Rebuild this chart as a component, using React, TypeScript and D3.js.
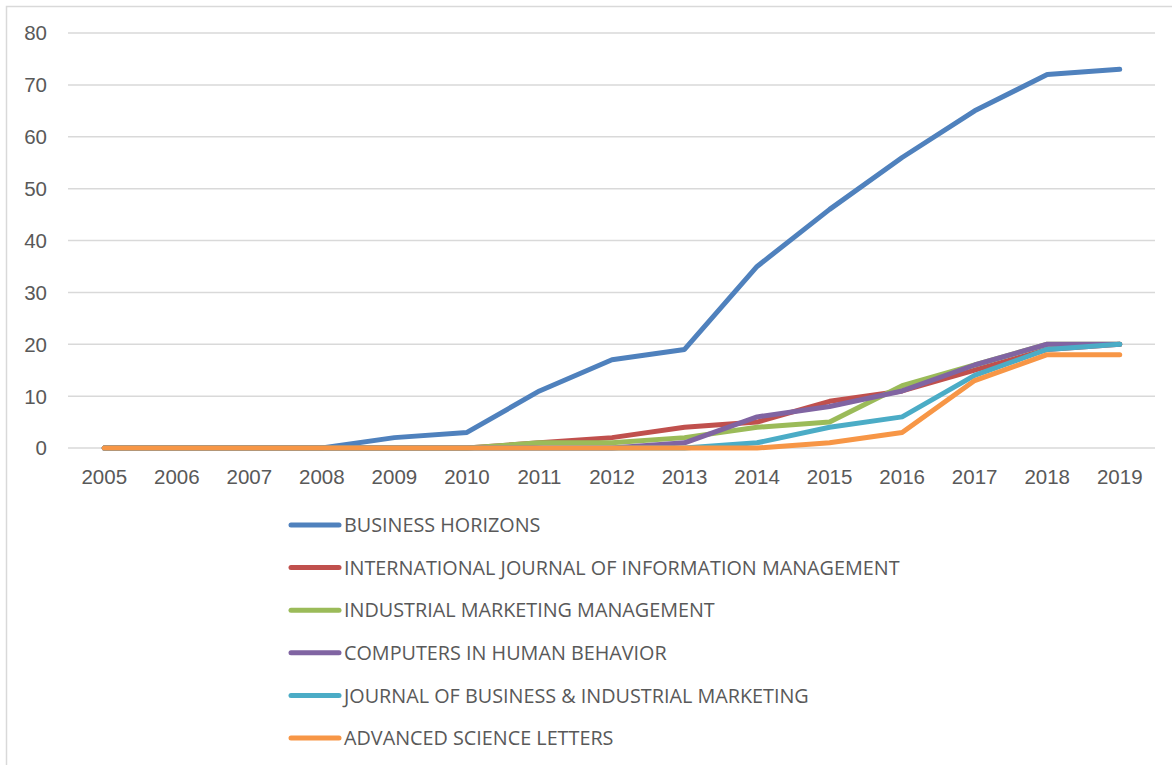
import { useRef, useEffect } from 'react'
import * as d3 from 'd3'

const years = ['2005', '2006', '2007', '2008', '2009', '2010', '2011', '2012', '2013', '2014', '2015', '2016', '2017', '2018', '2019']
const seriesNames = [
  'BUSINESS HORIZONS',
  'INTERNATIONAL JOURNAL OF INFORMATION MANAGEMENT',
  'INDUSTRIAL MARKETING MANAGEMENT',
  'COMPUTERS IN HUMAN BEHAVIOR',
  'JOURNAL OF BUSINESS & INDUSTRIAL MARKETING',
  'ADVANCED SCIENCE LETTERS',
]
const businessHorizons = [0, 0, 0, 0, 2, 3, 11, 17, 19, 35, 46, 56, 65, 72, 73]
const ijim = [0, 0, 0, 0, 0, 0, 1, 2, 4, 5, 9, 11, 15, 19, 20]
const imm = [0, 0, 0, 0, 0, 0, 1, 1, 2, 4, 5, 12, 16, 20, 20]
const chb = [0, 0, 0, 0, 0, 0, 0, 0, 1, 6, 8, 11, 16, 20, 20]
const jbim = [0, 0, 0, 0, 0, 0, 0, 0, 0, 1, 4, 6, 14, 19, 20]
const asl = [0, 0, 0, 0, 0, 0, 0, 0, 0, 0, 1, 3, 13, 18, 18]
const yTicks = [0, 10, 20, 30, 40, 50, 60, 70, 80]
const colors = ['#4F81BD', '#C0504D', '#9BBB59', '#8064A2', '#4BACC6', '#F79646']

const allSeries = [businessHorizons, ijim, imm, chb, jbim, asl]

export default function App() {
  const svgRef = useRef<SVGSVGElement>(null)

  useEffect(() => {
    if (!svgRef.current) return
    const svg = d3.select(svgRef.current)
    svg.selectAll('*').remove()

    const font = '"Liberation Sans", Arial, sans-serif'
    const textColor = '#595959'

    // chart frame
    svg.append('rect')
      .attr('x', 6.5).attr('y', 6.5)
      .attr('width', 1180).attr('height', 780)
      .style('fill', 'white')
      .style('stroke', '#d9d9d9')
      .style('stroke-width', 1.5)

    const x = d3.scaleBand().domain(years).range([68, 1156])
    const y = d3.scaleLinear().domain([0, 80]).range([448, 33])

    // grid
    svg.append('g')
      .selectAll('line')
      .data(yTicks)
      .enter()
      .append('line')
      .attr('x1', 68).attr('x2', 1155)
      .attr('y1', d => y(d)).attr('y2', d => y(d))
      .style('stroke', '#d9d9d9')
      .style('stroke-width', 1.5)

    // y labels
    svg.append('g')
      .selectAll('text')
      .data(yTicks)
      .enter()
      .append('text')
      .attr('x', 47)
      .attr('y', d => y(d))
      .attr('dy', '0.36em')
      .attr('text-anchor', 'end')
      .style('fill', textColor)
      .style('font-family', font)
      .style('font-size', '20.5px')
      .text(d => d)

    // x labels
    svg.append('g')
      .selectAll('text')
      .data(years)
      .enter()
      .append('text')
      .attr('x', d => (x(d) as number) + x.bandwidth() / 2)
      .attr('y', 484)
      .attr('text-anchor', 'middle')
      .style('fill', textColor)
      .style('font-family', font)
      .style('font-size', '20.5px')
      .text(d => d)

    const line = d3.line<number>()
      .x((d, i) => (x(years[i]) as number) + x.bandwidth() / 2)
      .y(d => y(d))

    allSeries.forEach((s, i) => {
      svg.append('path')
        .datum(s)
        .attr('d', line)
        .style('fill', 'none')
        .style('stroke', colors[i])
        .style('stroke-width', 5)
        .style('stroke-linecap', 'round')
        .style('stroke-linejoin', 'round')
    })

    // legend
    const lg = svg.append('g')
    seriesNames.forEach((name, i) => {
      const ly = 525 + i * 42.6
      lg.append('line')
        .attr('x1', 291).attr('x2', 339)
        .attr('y1', ly).attr('y2', ly)
        .style('stroke', colors[i])
        .style('stroke-width', 5)
        .style('stroke-linecap', 'round')
      lg.append('text')
        .attr('x', 344)
        .attr('y', ly)
        .attr('dy', '0.36em')
        .style('fill', textColor)
        .style('font-family', '"Open Sans", sans-serif')
        .style('font-size', '19.8px')
        .text(name)
    })
  }, [])

  return (
    <svg ref={svgRef} width={1172} height={765}
      style={{ position: 'absolute', left: 0, top: 0 }} />
  )
}
